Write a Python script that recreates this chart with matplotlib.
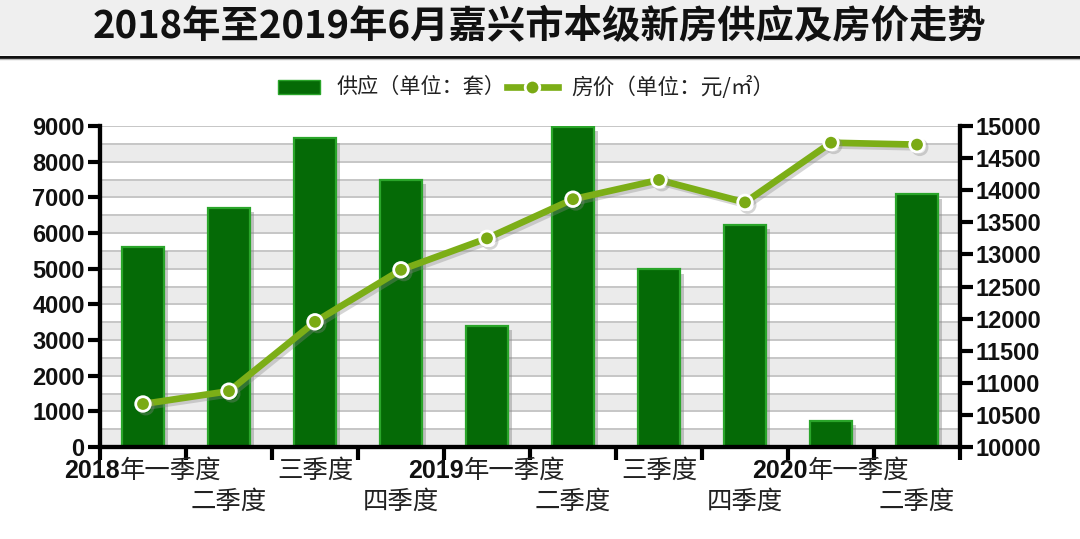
import matplotlib
matplotlib.use("Agg")
import matplotlib.pyplot as plt
from matplotlib.patches import Rectangle
from matplotlib.lines import Line2D
from matplotlib.offsetbox import TextArea, HPacker, AnnotationBbox
import matplotlib.patheffects as pe

plt.rcParams['font.family'] = ['Noto Sans CJK SC', 'DejaVu Sans']

# ---- data ----
title = "2018年至2019年6月嘉兴市本级新房供应及房价走势"
categories = ["2018年一季度", "二季度", "三季度", "四季度", "2019年一季度",
              "二季度", "三季度", "四季度", "2020年一季度", "二季度"]
supply = [5620, 6700, 8650, 7480, 3400, 8980, 4980, 6220, 720, 7080]
price = [10670, 10870, 11950, 12760, 13250, 13860, 14160, 13810, 14740, 14710]
legend_supply = "供应（单位：套）"
legend_price = "房价（单位：元/㎡）"
left_ticks = list(range(0, 9001, 1000))
right_ticks = list(range(10000, 15001, 500))

W, H = 1080, 539
fig = plt.figure(figsize=(W / 100, H / 100), dpi=100)

def fx(px):
    return px / W

def fy(py):
    return 1 - py / H

# title band
fig.patches.append(Rectangle((0, fy(55)), 1, 55 / H, transform=fig.transFigure,
                             facecolor="#efefef", edgecolor="none", zorder=0))
fig.lines.append(Line2D([0, 1], [fy(56.5), fy(56.5)], transform=fig.transFigure,
                        color="#111111", lw=2.2, zorder=1))
fig.lines.append(Line2D([0, 1], [fy(58.5), fy(58.5)], transform=fig.transFigure,
                        color="#bbbbbb", lw=1.0, zorder=1))
fig.text(0.5, fy(27), title, ha="center", va="center", fontsize=27.6,
         fontweight="bold", family=['Noto Sans CJK SC', 'DejaVu Sans'], color="#111111")

# axes
ax = fig.add_axes([fx(100), fy(447), fx(960) - fx(100), (447 - 126) / H])
ax2 = ax.twinx()

n = len(categories)
xs = list(range(n))
ax.set_xlim(-0.5, n - 0.5)
ax.set_ylim(0, 9000)
ax2.set_ylim(10000, 15000)

# bands and gridlines
for k in range(18):
    if k % 2 == 0:
        ax.axhspan(k * 500, (k + 1) * 500, color="#ebebeb", zorder=0, lw=0)
for k in range(1, 19):
    ax.axhline(k * 500, color="#c6c6c6", lw=1.4, zorder=0.5)

shadow = [pe.SimplePatchShadow(offset=(3, -3), shadow_rgbFace="#888888", alpha=0.45), pe.Normal()]
bars = ax.bar(xs, supply, width=0.49, color="#056a06", edgecolor="#2aa52a",
              linewidth=1.6, zorder=2)
for b in bars:
    b.set_path_effects(shadow)

ax2.plot(xs, price, color="#7cae17", lw=4.8, marker="o", markersize=10.5,
         markerfacecolor="#7aaa14", markeredgecolor="white", markeredgewidth=2,
         zorder=3,
         path_effects=[pe.SimpleLineShadow(offset=(2, -2), shadow_color="#888888", alpha=0.35), pe.Normal()])

# spines and ticks
for a in (ax, ax2):
    a.spines["top"].set_visible(False)
    for s in ("left", "right", "bottom"):
        a.spines[s].set_linewidth(3)
        a.spines[s].set_color("black")

ax.set_yticks(left_ticks)
ax2.set_yticks(right_ticks)
ax.set_yticklabels([str(v) for v in left_ticks])
ax2.set_yticklabels([str(v) for v in right_ticks])
ax.set_xticks([i - 0.5 for i in range(n + 1)])
ax.set_xticklabels([])
ax.tick_params(axis="x", direction="out", length=9, width=3, color="black")
ax.tick_params(axis="y", direction="out", length=9, width=3, color="black", pad=2)
ax2.tick_params(axis="y", direction="out", length=9, width=3, color="black", pad=2)
for lab in ax.get_yticklabels() + ax2.get_yticklabels():
    lab.set_fontfamily("Liberation Sans")
    lab.set_fontweight("bold")
    lab.set_fontsize(17)
    lab.set_color("#111111")

# category labels (two rows)
row_y = [-0.074, -0.172]
for i, lab in enumerate(categories):
    parts = []
    j = 0
    while j < len(lab) and lab[j].isdigit():
        j += 1
    if j > 0:
        parts.append(TextArea(lab[:j], textprops=dict(fontfamily="Liberation Sans",
                                                        fontweight="bold", fontsize=18, color="#111111")))
    parts.append(TextArea(lab[j:], textprops=dict(fontfamily=['Noto Sans CJK SC', 'DejaVu Sans'],
                                                  fontsize=18.3, color="#222222")))
    box = HPacker(children=parts, align="baseline", pad=0, sep=0)
    ab = AnnotationBbox(box, (i, row_y[i % 2]), xycoords=ax.get_xaxis_transform(),
                        frameon=False, box_alignment=(0.5, 0.5), annotation_clip=False)
    ax.add_artist(ab)

# legend (manual)
fig.patches.append(Rectangle((fx(278), fy(94)), fx(320) - fx(278), 14 / H,
                             transform=fig.transFigure, facecolor="#056a06",
                             edgecolor="#2aa52a", lw=1, zorder=3))
fig.text(fx(337), fy(87), legend_supply, ha="left", va="center", fontsize=15.2,
         color="#222222")
fig.lines.append(Line2D([fx(507), fx(558)], [fy(87), fy(87)], transform=fig.transFigure,
                        color="#7cae17", lw=4.8, marker=None, zorder=3))
fig.lines.append(Line2D([fx(532)], [fy(87)], transform=fig.transFigure,
                        color="#7cae17", marker="o", markersize=10.5,
                        markerfacecolor="#7aaa14", markeredgecolor="white",
                        markeredgewidth=2, zorder=4))
fig.text(fx(571), fy(87), legend_price, ha="left", va="center", fontsize=15.6,
         color="#222222", family=['Noto Sans CJK SC', 'DejaVu Sans'])

fig.savefig("out.png", dpi=100, facecolor="white")
